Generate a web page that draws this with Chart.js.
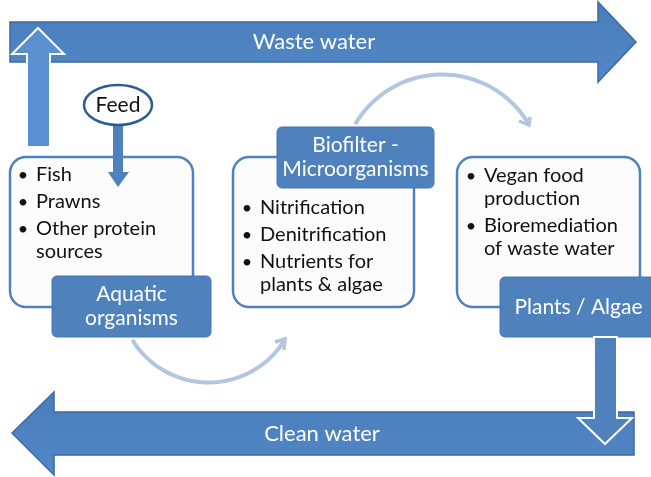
<!DOCTYPE html>
<html>
<head>
<meta charset="utf-8">
<script src="https://cdn.jsdelivr.net/npm/chart.js@4"></script>
<style>
  html, body { margin: 0; padding: 0; background: #fff; }
  #wrap { width: 651px; height: 477px; }
</style>
</head>
<body>
<div id="wrap"><canvas id="cycle" width="651" height="477"></canvas></div>
<script>
// ===============================
//  Aquaponics cycle diagram
// ===============================

// Texts
const flowLabels = ['Waste water', 'Clean water'];
const feedLabel = 'Feed';
const stageTitles = [['Aquatic', 'organisms'], ['Biofilter -', 'Microorganisms'], ['Plants / Algae']];
const stageItems = [
  [['Fish'], ['Prawns'], ['Other protein', 'sources']],
  [['Nitrification'], ['Denitrification'], ['Nutrients for', 'plants & algae']],
  [['Vegan food', 'production'], ['Bioremediation', 'of waste water']],
];

// Layout (in diagram units, 0..651 x 0..477, y down)
const boxes = [
  { x0: 10, x1: 193, y0: 157, y1: 307 },
  { x0: 233, x1: 414, y0: 157, y1: 307 },
  { x0: 457, x1: 640, y0: 157, y1: 307 },
];
const tags = [
  { x0: 52, x1: 211, y0: 276, y1: 337 },
  { x0: 277, x1: 434, y0: 127, y1: 188 },
  { x0: 500, x1: 656, y0: 277, y1: 337 },
];
const itemTop = [175, 208, 176];
const bulletX = [23, 247, 471];

const BLUE = '#4f81bd';
const EDGE = '#3c6aa3';
const PALE = '#b3c6e0';
const FONT = 'Lato, "Open Sans", sans-serif';

function drawDiagram(chart) {
  const { ctx } = chart;
  const sx = chart.scales.x, sy = chart.scales.y;
  const X = (v) => sx.getPixelForValue(v);
  const Y = (v) => sy.getPixelForValue(v);

  function poly(pts, fill, stroke, lw) {
    ctx.beginPath();
    pts.forEach((p, i) => (i ? ctx.lineTo(X(p[0]), Y(p[1])) : ctx.moveTo(X(p[0]), Y(p[1]))));
    ctx.closePath();
    ctx.fillStyle = fill;
    ctx.fill();
    if (stroke) { ctx.strokeStyle = stroke; ctx.lineWidth = lw; ctx.lineJoin = 'miter'; ctx.stroke(); }
  }
  function rrect(b, r, fill, stroke, lw) {
    ctx.beginPath();
    ctx.roundRect(X(b.x0), Y(b.y0), X(b.x1) - X(b.x0), Y(b.y1) - Y(b.y0), r);
    ctx.fillStyle = fill;
    ctx.fill();
    if (stroke) { ctx.strokeStyle = stroke; ctx.lineWidth = lw; ctx.stroke(); }
  }
  function text(str, x, y, color, size, align) {
    ctx.fillStyle = color;
    ctx.font = size + 'px ' + FONT;
    ctx.textAlign = align || 'center';
    ctx.textBaseline = 'middle';
    ctx.fillText(str, X(x), Y(y));
  }
  // circular arc through p0 and p1 with sagitta h (positive = bulges up)
  function arc(p0, p1, h, head) {
    const mx = (p0[0] + p1[0]) / 2, my = (p0[1] + p1[1]) / 2;
    const half = Math.abs(p1[0] - p0[0]) / 2;
    const r = (half * half + h * h) / (2 * Math.abs(h));
    const cy = h > 0 ? my - h + r : my - h - r;
    const a0 = Math.atan2(p0[1] - cy, p0[0] - mx);
    const a1 = Math.atan2(p1[1] - cy, p1[0] - mx);
    let da = a1 - a0;
    if (h > 0 && da < 0) da += Math.PI * 2;
    if (h < 0 && da > 0) da -= Math.PI * 2;
    ctx.beginPath();
    for (let i = 0; i <= 40; i++) {
      const a = a0 + (da * i) / 40;
      const px = X(mx + r * Math.cos(a)), py = Y(cy + r * Math.sin(a));
      i ? ctx.lineTo(px, py) : ctx.moveTo(px, py);
    }
    ctx.strokeStyle = PALE;
    ctx.lineWidth = 4;
    ctx.stroke();
    ctx.beginPath();
    ctx.moveTo(X(head[0][0]), Y(head[0][1]));
    ctx.lineTo(X(p1[0]), Y(p1[1]));
    ctx.lineTo(X(head[1][0]), Y(head[1][1]));
    ctx.lineWidth = 3.5;
    ctx.stroke();
  }

  ctx.save();

  // Waste water arrow
  const g1 = ctx.createLinearGradient(0, Y(2), 0, Y(82));
  g1.addColorStop(0, '#4a7cb9');
  g1.addColorStop(1, '#5288c8');
  poly([[10, 22], [598, 22], [598, 2], [636, 42], [598, 82], [598, 62], [10, 62]], g1, EDGE, 1.5);
  text(flowLabels[0], 314, 42, '#fff', 22);

  // Up arrow from aquatic box
  poly([[27, 147], [27, 54], [12, 54], [38, 28], [64, 54], [50, 54], [50, 147]], '#5a8fd0', '#fff', 2);

  // Upper curved arrow
  arc([355, 124], [529, 125], 50, [[519, 121], [530, 117]]);

  // Stage boxes
  boxes.forEach((b) => rrect(b, 16, '#fcfcfd', BLUE, 2.5));

  // Feed arrow
  poly([[113, 120], [123, 120], [123, 172], [129, 172], [118, 187], [108, 172], [113, 172]], BLUE);
  ctx.beginPath();
  ctx.ellipse(X(118), Y(105), X(152) - X(118), Y(125) - Y(105), 0, 0, Math.PI * 2);
  ctx.fillStyle = '#fff';
  ctx.fill();
  ctx.strokeStyle = '#2c5d92';
  ctx.lineWidth = 2.5;
  ctx.stroke();
  text(feedLabel, 118, 105, '#111', 21);

  // Bullet lists
  stageItems.forEach((items, i) => {
    let y = itemTop[i];
    items.forEach((lines) => {
      text('•', bulletX[i], y, '#111', 18, 'center');
      lines.forEach((ln, k) => {
        text(ln, bulletX[i] + 13, y, '#111', 20, 'left');
        y += k < lines.length - 1 ? 23 : 0;
      });
      y += 27;
    });
  });

  // Title tags
  tags.forEach((t, i) => {
    rrect(t, 5, BLUE, '#4676b0', 1);
    const lines = stageTitles[i];
    const cx = (t.x0 + Math.min(t.x1, 651)) / 2 + (i === 2 ? 3 : 0);
    const cy = (t.y0 + t.y1) / 2;
    lines.forEach((ln, k) => text(ln, cx, cy + (k - (lines.length - 1) / 2) * 24, '#fff', 21));
  });

  // Lower curved arrow
  arc([132, 340], [285, 339], -43, [[275, 342], [284, 350]]);

  // Clean water arrow
  const g2 = ctx.createLinearGradient(0, Y(392), 0, Y(475));
  g2.addColorStop(0, '#4a7cb9');
  g2.addColorStop(1, '#5288c8');
  poly([[634, 412], [54, 412], [54, 392], [12, 433], [54, 475], [54, 455], [634, 455]], g2, EDGE, 1.5);
  text(flowLabels[1], 322, 434, '#fff', 22);

  // Down arrow from plants box
  poly([[594, 337], [594, 418], [578, 418], [605, 444], [632, 418], [617, 418], [617, 337]], BLUE, '#fff', 2);

  ctx.restore();
}

const nodes = boxes.map((b) => ({ x: (b.x0 + b.x1) / 2, y: (b.y0 + b.y1) / 2 }));

new Chart(document.getElementById('cycle'), {
  type: 'scatter',
  data: { datasets: [{ data: nodes, pointRadius: 0 }] },
  options: {
    responsive: false,
    animation: false,
    layout: { padding: 0 },
    plugins: { legend: { display: false }, tooltip: { enabled: false } },
    scales: {
      x: { type: 'linear', min: 0, max: 651, display: false },
      y: { type: 'linear', min: 0, max: 477, reverse: true, display: false },
    },
  },
  plugins: [{ id: 'diagram', afterDatasetsDraw: drawDiagram }],
});
</script>
</body>
</html>
